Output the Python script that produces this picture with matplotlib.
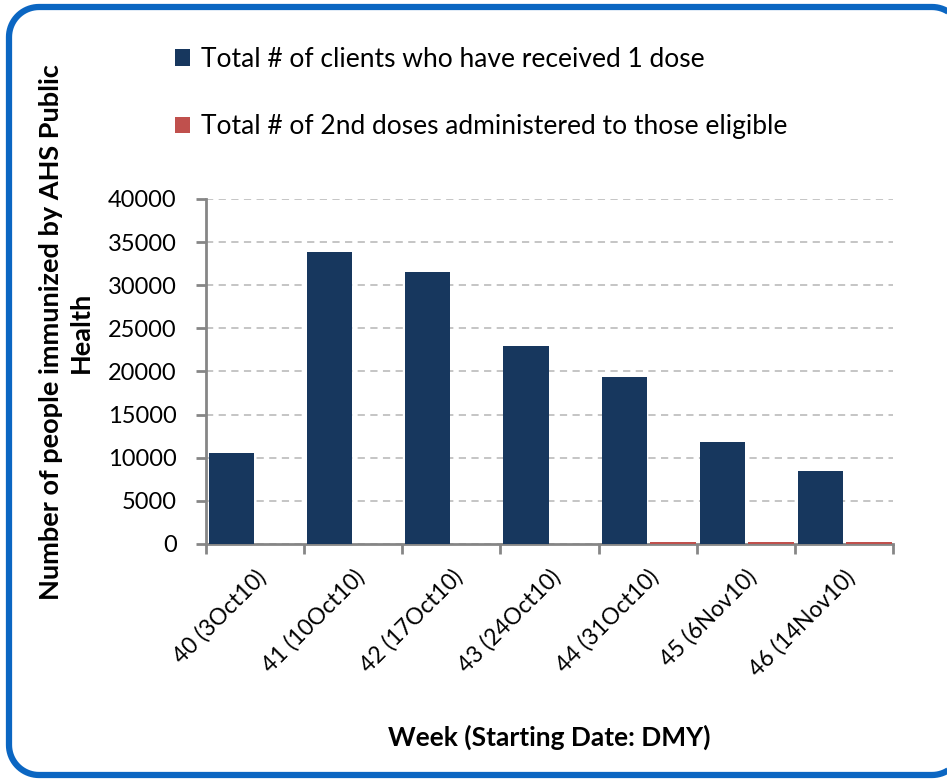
import matplotlib.pyplot as plt
import numpy as np
from matplotlib.patches import Polygon
from matplotlib.transforms import IdentityTransform

plt.rcParams['font.family'] = ['Lato', 'DejaVu Sans']

weeks = ["40 (3Oct10)", "41 (10Oct10)", "42 (17Oct10)", "43 (24Oct10)",
         "44 (31Oct10)", "45 (6Nov10)", "46 (14Nov10)"]
first_dose = [10500, 33800, 31500, 22900, 19400, 11800, 8500]
second_dose = [0, 0, 0, 0, 250, 250, 250]

navy = "#17375E"
red = "#C0504D"
grey = "#868686"

W, H = 947, 779
fig = plt.figure(figsize=(W / 100, H / 100), dpi=100)


def rounded_rect(x0, y0, x1, y1, r, n=20):
    # corners as short straight segments so agg clipping stays clean
    pts = []
    for cx, cy, a0 in [(x1 - r, y1 - r, 0), (x0 + r, y1 - r, 90),
                       (x0 + r, y0 + r, 180), (x1 - r, y0 + r, 270)]:
        t = np.radians(np.linspace(a0, a0 + 90, n))
        pts += list(zip(cx + r * np.cos(t), cy + r * np.sin(t)))
    return np.array(pts)


# rounded blue frame in pixel units, right side falls just off the picture
frame = Polygon(rounded_rect(9, H - 775, 962, H - 7, 30), closed=True,
                transform=IdentityTransform(), fill=False,
                edgecolor="#0B66C2", linewidth=4.5, clip_on=False)
fig.patches.append(frame)

ax = fig.add_axes([206 / W, 1 - 544 / H, (893 - 206) / W, (544 - 199) / H])

x = np.arange(len(weeks))
b1 = ax.bar(x - 0.24, first_dose, width=0.46, color=navy, zorder=3,
            label="Total # of clients who have received 1 dose")
b2 = ax.bar(x + 0.255, second_dose, width=0.47, color=red, zorder=3,
            label="Total # of 2nd doses administered to those eligible")

ax.set_xlim(-0.5, len(weeks) - 0.5)
ax.set_ylim(0, 40000)
ax.set_yticks(np.arange(0, 40001, 5000))
ax.yaxis.grid(True, linestyle=(0, (4, 3)), color="#C0C0C0", linewidth=1.3, zorder=0)

ax.set_xticks(np.arange(-0.5, len(weeks)), minor=False)
ax.set_xticklabels([])
ax.set_xticks(x, minor=True)
ax.set_xticklabels(weeks, minor=True, rotation=45, ha="right",
                   rotation_mode="anchor", fontsize=16.5)
ax.tick_params(axis="x", which="minor", length=0, pad=16)
ax.tick_params(axis="x", which="major", length=7, width=2, color=grey)
ax.tick_params(axis="y", length=7, width=2, color=grey, labelsize=17, pad=14)

for s in ["top", "right"]:
    ax.spines[s].set_visible(False)
for s in ["left", "bottom"]:
    ax.spines[s].set_color(grey)
    ax.spines[s].set_linewidth(2)

ax.set_ylabel("Number of people immunized by AHS Public\nHealth",
              fontsize=19.5, fontweight="bold", va="center", linespacing=1.3)
ax.yaxis.set_label_coords((66 - 206) / 687, (544 - 332) / 345)
ax.set_xlabel("Week (Starting Date: DMY)", fontsize=19, fontweight="bold",
              va="center")
ax.xaxis.set_label_coords(0.5, (544 - 737) / 345)

fig.legend(handles=[b1, b2], loc="upper left",
           bbox_to_anchor=(175 / W, 1 - 47 / H),
           frameon=False, fontsize=19, handlelength=0.55, handleheight=0.6,
           handletextpad=0.45, labelspacing=1.6, borderpad=0, borderaxespad=0)

fig.savefig("out.png", dpi=100)
